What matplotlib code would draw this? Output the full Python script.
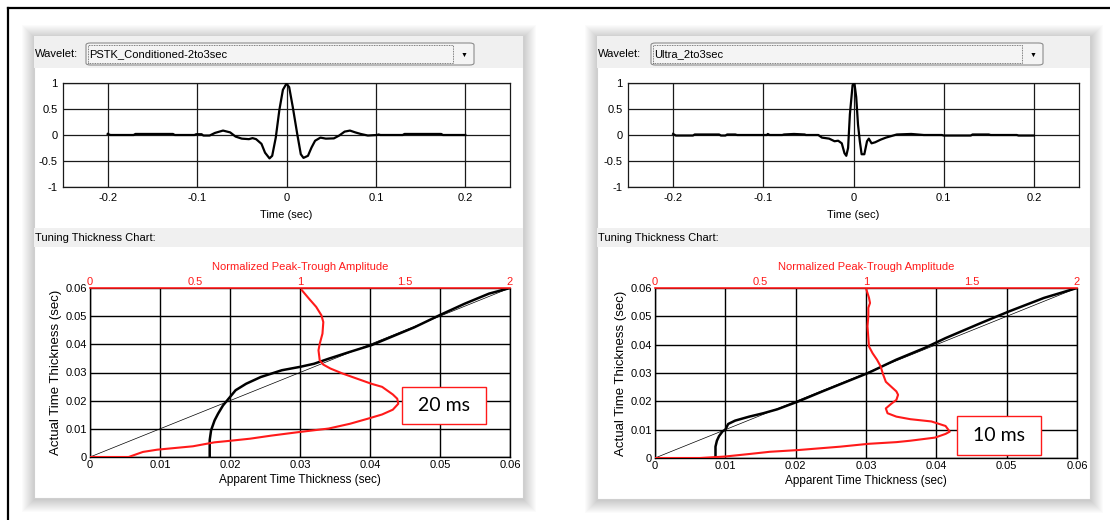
import numpy as np
import matplotlib.pyplot as plt
from matplotlib.patches import Rectangle, FancyBboxPatch
from matplotlib.lines import Line2D

plt.rcParams['font.family'] = ['Liberation Sans', 'DejaVu Sans']

W, H = 1110, 520

# Wavelet names and tuning annotations
wavelet_names = ['PSTK_Conditioned-2to3sec', 'Ultra_2to3sec']
tuning_labels = ['20 ms', '10 ms']

# Wavelet 1: PSTK_Conditioned-2to3sec
pstk_time = [-0.200, -0.197, -0.171, -0.169, -0.127, -0.125, -0.103, -0.101, -0.095, -0.093,
             -0.086, -0.080, -0.071, -0.063, -0.057, -0.050, -0.042, -0.038, -0.034, -0.028,
             -0.024, -0.019, -0.016, -0.012, -0.008, -0.004, 0.000, 0.003, 0.007, 0.012,
             0.016, 0.019, 0.024, 0.028, 0.032, 0.038, 0.044, 0.053, 0.059, 0.065,
             0.071, 0.077, 0.083, 0.091, 0.101, 0.103, 0.105, 0.130, 0.132, 0.173,
             0.175, 0.200]
pstk_amp = [0.02, 0.0, 0.0, 0.02, 0.02, 0.0, 0.0, 0.015, 0.015, -0.01,
            -0.01, 0.04, 0.085, 0.05, -0.03, -0.07, -0.08, -0.06, -0.08, -0.17,
            -0.34, -0.45, -0.40, -0.05, 0.48, 0.87, 0.99, 0.92, 0.54, 0.02,
            -0.37, -0.44, -0.40, -0.24, -0.11, -0.05, -0.07, -0.065, -0.01, 0.065,
            0.085, 0.05, 0.02, -0.01, 0.0, 0.01, 0.0, 0.0, 0.02, 0.02,
            0.0, 0.0]

# Wavelet 2: Ultra_2to3sec
ultra_time = [-0.200, -0.197, -0.178, -0.176, -0.149, -0.147, -0.142, -0.140, -0.131, -0.129,
              -0.096, -0.095, -0.093, -0.079, -0.077, -0.066, -0.054, -0.053, -0.039, -0.035,
              -0.027, -0.021, -0.017, -0.013, -0.010, -0.008, -0.006, -0.004, -0.001, 0.001,
              0.003, 0.005, 0.007, 0.009, 0.012, 0.015, 0.017, 0.020, 0.024, 0.030,
              0.036, 0.042, 0.048, 0.064, 0.078, 0.098, 0.100, 0.130, 0.132, 0.150,
              0.152, 0.181, 0.183, 0.200]
ultra_amp = [0.02, -0.01, -0.01, 0.01, 0.01, -0.01, -0.01, 0.01, 0.01, 0.0,
             0.0, 0.02, 0.0, 0.0, 0.01, 0.02, 0.01, 0.0, 0.0, -0.05,
             -0.07, -0.12, -0.11, -0.16, -0.35, -0.40, -0.25, 0.40, 0.96, 1.0,
             0.73, 0.20, -0.12, -0.37, -0.37, -0.12, -0.07, -0.16, -0.14, -0.09,
             -0.05, -0.02, 0.01, 0.02, 0.0, 0.0, -0.01, -0.01, 0.01, 0.01,
             0.0, 0.0, -0.01, -0.01]

# Tuning chart 1: apparent vs actual thickness (sec)
pstk_apparent = [0.0171, 0.0171, 0.0173, 0.0178, 0.0183, 0.0190, 0.0198, 0.0208, 0.0223, 0.0244,
                 0.0274, 0.0300, 0.0320, 0.0341, 0.0371, 0.0402, 0.0433, 0.0463, 0.0499, 0.0535,
                 0.0570, 0.0600]
pstk_actual = [0.0, 0.0060, 0.0095, 0.0130, 0.0154, 0.0183, 0.0207, 0.0237, 0.0260, 0.0284,
               0.0308, 0.0320, 0.0331, 0.0349, 0.0373, 0.0397, 0.0429, 0.0460, 0.0503, 0.0544,
               0.0580, 0.0600]
# normalized peak-trough amplitude vs actual thickness
pstk_norm_amp = [0.0, 0.184, 0.252, 0.320, 0.490, 0.592, 0.660, 0.762, 0.864, 1.000,
                 1.136, 1.238, 1.323, 1.391, 1.442, 1.468, 1.463, 1.442, 1.391, 1.340,
                 1.272, 1.204, 1.145, 1.111, 1.094, 1.088, 1.094, 1.107, 1.111, 1.102,
                 1.077, 1.043, 1.009]
pstk_norm_thick = [0.0, 0.0, 0.0018, 0.0026, 0.0038, 0.0052, 0.0057, 0.0065, 0.0076, 0.0089,
                   0.0101, 0.0118, 0.0136, 0.0151, 0.0168, 0.0189, 0.0207, 0.0222, 0.0249, 0.0260,
                   0.0278, 0.0296, 0.0314, 0.0328, 0.0343, 0.0379, 0.0402, 0.0438, 0.0479, 0.0503,
                   0.0533, 0.0562, 0.0592]

# Tuning chart 2
ultra_apparent = [0.0086, 0.0086, 0.0088, 0.0091, 0.0096, 0.0100, 0.0104, 0.0114, 0.0134, 0.0154,
                  0.0174, 0.0203, 0.0238, 0.0273, 0.0303, 0.0343, 0.0383, 0.0413, 0.0463, 0.0503,
                  0.0553, 0.0600]
ultra_actual = [0.0, 0.0040, 0.0061, 0.0077, 0.0094, 0.0100, 0.0120, 0.0132, 0.0146, 0.0158,
                0.0172, 0.0199, 0.0235, 0.0270, 0.0300, 0.0347, 0.0388, 0.0423, 0.0476, 0.0517,
                0.0565, 0.0600]
ultra_norm_amp = [0.0, 0.213, 0.329, 0.446, 0.545, 0.678, 0.878, 1.011, 1.144, 1.210,
                  1.327, 1.377, 1.397, 1.377, 1.310, 1.210, 1.144, 1.102, 1.094, 1.119,
                  1.144, 1.152, 1.144, 1.119, 1.094, 1.081, 1.069, 1.052, 1.031, 1.014,
                  1.011, 1.007, 1.011, 1.011, 1.019, 1.014, 1.002]
ultra_norm_thick = [0.0, 0.0, 0.0005, 0.0014, 0.0022, 0.0028, 0.0040, 0.0050, 0.0056, 0.0061,
                    0.0072, 0.0085, 0.0093, 0.0113, 0.0129, 0.0137, 0.0146, 0.0158, 0.0175, 0.0191,
                    0.0205, 0.0223, 0.0235, 0.0252, 0.0269, 0.0295, 0.0324, 0.0347, 0.0370, 0.0394,
                    0.0425, 0.0465, 0.0500, 0.0530, 0.0547, 0.0566, 0.0594]

# 1:1 reference line
diag_x = [0.0, 0.06]
diag_y = [0.0, 0.06]

RED = '#ff1a1a'
GRAY_BAND = '#f0f0f0'
FS = 8


def box(x0, y0, x1, y1):
    """pixel box (top-left origin) -> figure rect"""
    return [x0 / W, 1 - y1 / H, (x1 - x0) / W, (y1 - y0) / H]


def fx(x):
    return x / W


def fy(y):
    return 1 - y / H


fig = plt.figure(figsize=(W / 100, H / 100), dpi=100)
fig.patch.set_facecolor('white')


def add_rect(x0, y0, x1, y1, **kw):
    r = Rectangle((fx(x0), fy(y1)), (x1 - x0) / W, (y1 - y0) / H, transform=fig.transFigure, **kw)
    fig.add_artist(r)
    return r


def draw_panel(px0, py0, px1, py1, name, label, t, amp, app, act, namp, nthick,
               top_box, bot_box, note_box):
    # soft drop shadow
    for i in range(1, 14):
        add_rect(px0 - i + 1, py0 - i + 2, px1 + i, py1 + i + 1, facecolor='black',
                 edgecolor='none', alpha=0.016, zorder=0)
    add_rect(px0, py0, px1, py1, facecolor='white', edgecolor='#cfcfcf', lw=0.8, zorder=1)
    add_rect(px0, py0, px1, py0 + 32, facecolor=GRAY_BAND, edgecolor='none', zorder=1)
    add_rect(px0, 228, px1, 247, facecolor=GRAY_BAND, edgecolor='none', zorder=1)

    # wavelet selector
    fig.text(fx(px0 + 1), fy(54), 'Wavelet:', fontsize=FS, va='center', ha='left', zorder=3)
    cx0, cx1 = top_box[0] + 23, top_box[2] - 36
    combo = FancyBboxPatch((fx(cx0), fy(65)), (cx1 - cx0) / W, 22 / H,
                           boxstyle='round,pad=0,rounding_size=0.004', transform=fig.transFigure,
                           facecolor='#f4f4f4', edgecolor='#8c8c8c', lw=0.8, zorder=2)
    fig.add_artist(combo)
    add_rect(cx0 + 2, 45, cx1 - 21, 63, facecolor='none', edgecolor='#555555', lw=0.6,
             linestyle=(0, (1, 1)), zorder=3)
    fig.text(fx(cx0 + 3), fy(54.5), name, fontsize=FS, va='center', ha='left', zorder=4)
    fig.text(fx(cx1 - 10), fy(55), '\u25bc', fontsize=5, va='center', ha='center', zorder=4)

    # wavelet plot
    ax = fig.add_axes(box(*top_box), zorder=5)
    ax.plot(t, amp, color='black', lw=1.6, zorder=3)
    ax.set_xlim(-0.25, 0.25)
    ax.set_ylim(-1, 1)
    ax.set_xticks([-0.2, -0.1, 0, 0.1, 0.2])
    ax.set_xticklabels(['-0.2', '-0.1', '0', '0.1', '0.2'])
    ax.set_yticks([-1, -0.5, 0, 0.5, 1])
    ax.set_yticklabels(['-1', '-0.5', '0', '0.5', '1'])
    ax.tick_params(length=0, labelsize=FS, pad=4)
    ax.grid(True, color='#1a1a1a', lw=0.9)
    for s in ax.spines.values():
        s.set_color('#1a1a1a')
        s.set_linewidth(0.9)
    ax.set_xlabel('Time (sec)', fontsize=FS, labelpad=5)

    fig.text(fx(px0 + 1), fy(238), 'Tuning Thickness Chart:', fontsize=FS, va='center',
             ha='left', zorder=3)

    # tuning chart
    ax2 = fig.add_axes(box(*bot_box), zorder=5)
    ax2.plot(diag_x, diag_y, color='black', lw=0.5, zorder=3)
    ax2.plot(app, act, color='black', lw=1.8, zorder=4)
    ax2.set_xlim(0, 0.06)
    ax2.set_ylim(0, 0.06)
    ticks = [0, 0.01, 0.02, 0.03, 0.04, 0.05, 0.06]
    tl = ['0', '0.01', '0.02', '0.03', '0.04', '0.05', '0.06']
    ax2.set_xticks(ticks)
    ax2.set_xticklabels(tl)
    ax2.set_yticks(ticks)
    ax2.set_yticklabels(tl)
    ax2.tick_params(length=0, labelsize=FS, pad=2)
    ax2.grid(True, color='black', lw=1.0)
    for s in ax2.spines.values():
        s.set_color('black')
        s.set_linewidth(1.0)
    ax2.spines['top'].set_visible(False)
    ax2.set_xlabel('Apparent Time Thickness (sec)', fontsize=8.5, labelpad=3)
    ax2.set_ylabel('Actual Time Thickness (sec)', fontsize=9.5, labelpad=3)

    ax3 = ax2.twiny()
    ax3.plot(namp, nthick, color=RED, lw=1.5, zorder=5)
    ax3.set_xlim(0, 2)
    ax3.set_xticks([0, 0.5, 1, 1.5, 2])
    ax3.set_xticklabels(['0', '0.5', '1', '1.5', '2'])
    ax3.set_xticks([0.5, 1.5], minor=True)
    ax3.tick_params(axis='x', which='major', length=0, labelsize=FS, labelcolor=RED, pad=1)
    ax3.tick_params(axis='x', which='minor', length=10, direction='in', color=RED, width=1.0)
    ax3.spines['top'].set_color(RED)
    ax3.spines['top'].set_linewidth(1.2)
    for k in ['left', 'right', 'bottom']:
        ax3.spines[k].set_visible(False)
    ax3.set_xlabel('Normalized Peak-Trough Amplitude', fontsize=FS, color=RED, labelpad=5)

    # annotation box
    add_rect(*note_box, facecolor='white', edgecolor=RED, lw=1.0, zorder=10)
    fig.text(fx((note_box[0] + note_box[2]) / 2), fy((note_box[1] + note_box[3]) / 2), label,
             fontsize=14, family=['Lato', 'DejaVu Sans'], ha='center', va='center', zorder=11)


draw_panel(34, 36, 523, 498, wavelet_names[0], tuning_labels[0], pstk_time, pstk_amp,
           pstk_apparent, pstk_actual, pstk_norm_amp, pstk_norm_thick,
           (63, 83, 510, 187), (90, 288, 510, 457), (402, 387, 486, 424))
draw_panel(597, 36, 1090, 499, wavelet_names[1], tuning_labels[1], ultra_time, ultra_amp,
           ultra_apparent, ultra_actual, ultra_norm_amp, ultra_norm_thick,
           (628, 83, 1079, 187), (655, 288, 1077, 458), (957, 416, 1041, 455))

# outer frame
fig.add_artist(Line2D([fx(8), fx(8)], [fy(8), 0], transform=fig.transFigure, color='black', lw=1.6))
fig.add_artist(Line2D([fx(8), 1], [fy(8), fy(8)], transform=fig.transFigure, color='black', lw=1.6))

fig.savefig('out.png', dpi=100)
